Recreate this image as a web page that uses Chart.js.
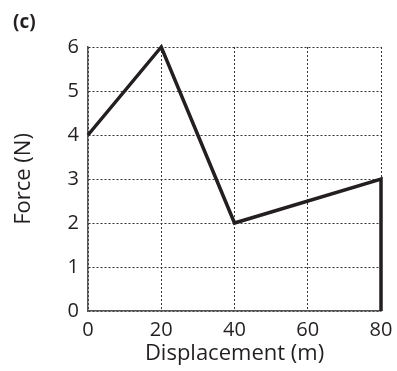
<!DOCTYPE html>
<html lang="en">
<head>
  <meta charset="UTF-8" />
  <title>Force vs Displacement (c)</title>
  <script src="https://cdn.jsdelivr.net/npm/chart.js"></script>
  <style>
    html, body {
      margin: 0;
      padding: 0;
      background: #fff;
    }
    .chart-box {
      width: 397px;
      height: 371px;
    }
  </style>
</head>
<body>
  <div class="chart-box"><canvas id="force-chart" width="397" height="371"></canvas></div>

  <script>
    // graph data
    const displacement = [0, 20, 40, 80, 80];
    const force = [4, 6, 2, 3, 0];
    const xTicks = [0, 20, 40, 60, 80];
    const yTicks = [0, 1, 2, 3, 4, 5, 6];
    const panelLabel = '(c)';

    const ink = '#231f20';
    const fontFamily = '"Open Sans", "Noto Sans", sans-serif';

    // draws the "(c)" panel marker in the top left corner
    const panelLabelPlugin = {
      id: 'panelLabel',
      afterDraw(chart) {
        const ctx = chart.ctx;
        ctx.save();
        ctx.fillStyle = ink;
        ctx.font = 'bold 19px ' + fontFamily;
        ctx.textBaseline = 'middle';
        ctx.fillText(panelLabel, 13, 23);
        ctx.restore();
      }
    };

    new Chart(document.getElementById('force-chart'), {
      type: 'scatter',
      data: {
        datasets: [{
          data: displacement.map((x, i) => ({ x: x, y: force[i] })),
          showLine: true,
          borderColor: ink,
          borderWidth: 3.5,
          pointRadius: 0,
          borderJoinStyle: 'miter',
          clip: false
        }]
      },
      options: {
        responsive: false,
        animation: false,
        layout: { padding: { left: 0, right: 16, top: 47, bottom: 0 } },
        plugins: {
          legend: { display: false },
          tooltip: { enabled: false }
        },
        scales: {
          x: {
            type: 'linear',
            min: 0,
            max: 80,
            afterBuildTicks: scale => { scale.ticks = xTicks.map(v => ({ value: v })); },
            afterFit: scale => {
              scale.height = 60;
              scale.paddingLeft = 0;
              scale.paddingRight = 0;
            },
            grid: { color: '#333', lineWidth: 1, drawTicks: false },
            border: { color: '#555', width: 1.5, dash: [2, 2] },
            ticks: { color: ink, padding: 7, font: { family: fontFamily, size: 20 } },
            title: {
              display: true,
              text: 'Displacement (m)',
              color: ink,
              padding: { top: 0, bottom: 4 },
              font: { family: fontFamily, size: 22 }
            }
          },
          y: {
            type: 'linear',
            min: 0,
            max: 6,
            afterBuildTicks: scale => { scale.ticks = yTicks.map(v => ({ value: v })); },
            afterFit: scale => {
              scale.width = 88;
              scale.paddingTop = 0;
              scale.paddingBottom = 0;
            },
            grid: { color: '#333', lineWidth: 1, drawTicks: false },
            border: { color: '#555', width: 1.5, dash: [2, 2] },
            ticks: { color: ink, padding: 9, font: { family: fontFamily, size: 20 } },
            title: {
              display: true,
              text: 'Force (N)',
              color: ink,
              padding: { top: 11, bottom: 0 },
              font: { family: fontFamily, size: 22 }
            }
          }
        }
      },
      plugins: [panelLabelPlugin]
    });
  </script>
</body>
</html>
